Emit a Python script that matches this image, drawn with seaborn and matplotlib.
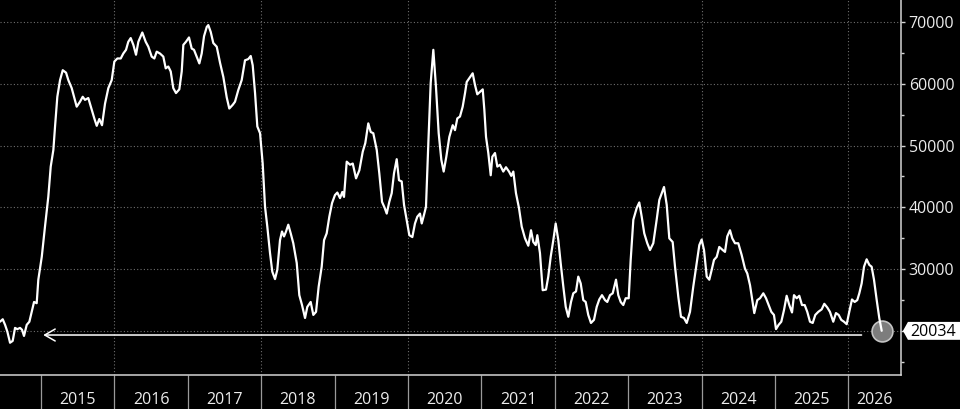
import matplotlib
matplotlib.use("Agg")
import numpy as np
import pandas as pd
import matplotlib.pyplot as plt
import seaborn as sns
from matplotlib.path import Path

# ---------------- data ----------------
years = [
    2014.441, 2014.478, 2014.510, 2014.541, 2014.578, 2014.614, 2014.646, 2014.677, 2014.714, 2014.741,
    2014.768, 2014.805, 2014.841, 2014.873, 2014.905, 2014.941, 2014.963, 2015.010, 2015.054, 2015.099,
    2015.132, 2015.168, 2015.191, 2015.222, 2015.259, 2015.296, 2015.341, 2015.372, 2015.418, 2015.450,
    2015.486, 2015.531, 2015.568, 2015.599, 2015.644, 2015.691, 2015.726, 2015.759, 2015.794, 2015.831,
    2015.872, 2015.917, 2015.963, 2015.999, 2016.040, 2016.086, 2016.121, 2016.158, 2016.189, 2016.222,
    2016.258, 2016.294, 2016.326, 2016.380, 2016.426, 2016.462, 2016.508, 2016.544, 2016.576, 2016.621,
    2016.666, 2016.699, 2016.734, 2016.767, 2016.802, 2016.839, 2016.884, 2016.917, 2016.939, 2016.975,
    2017.016, 2017.053, 2017.084, 2017.121, 2017.157, 2017.189, 2017.221, 2017.258, 2017.279, 2017.312,
    2017.347, 2017.394, 2017.439, 2017.484, 2017.530, 2017.565, 2017.612, 2017.643, 2017.688, 2017.734,
    2017.779, 2017.824, 2017.857, 2017.884, 2017.916, 2017.947, 2017.984, 2018.020, 2018.052, 2018.083,
    2018.120, 2018.151, 2018.188, 2018.219, 2018.256, 2018.283, 2018.311, 2018.338, 2018.369, 2018.402,
    2018.437, 2018.484, 2018.519, 2018.556, 2018.597, 2018.628, 2018.674, 2018.710, 2018.747, 2018.783,
    2018.824, 2018.856, 2018.892, 2018.928, 2018.965, 2019.005, 2019.037, 2019.074, 2019.105, 2019.128,
    2019.165, 2019.210, 2019.247, 2019.292, 2019.337, 2019.383, 2019.418, 2019.459, 2019.492, 2019.527,
    2019.574, 2019.609, 2019.646, 2019.683, 2019.710, 2019.745, 2019.778, 2019.809, 2019.846, 2019.877,
    2019.914, 2019.946, 2019.982, 2020.018, 2020.059, 2020.095, 2020.127, 2020.163, 2020.187, 2020.218,
    2020.245, 2020.277, 2020.309, 2020.345, 2020.381, 2020.418, 2020.454, 2020.486, 2020.522, 2020.563,
    2020.609, 2020.640, 2020.672, 2020.708, 2020.745, 2020.777, 2020.800, 2020.835, 2020.881, 2020.913,
    2020.944, 2020.981, 2021.018, 2021.040, 2021.063, 2021.094, 2021.127, 2021.149, 2021.185, 2021.217,
    2021.253, 2021.298, 2021.335, 2021.376, 2021.407, 2021.435, 2021.471, 2021.512, 2021.549, 2021.594,
    2021.639, 2021.676, 2021.707, 2021.740, 2021.762, 2021.798, 2021.835, 2021.880, 2021.911, 2021.944,
    2021.980, 2022.012, 2022.048, 2022.080, 2022.116, 2022.149, 2022.184, 2022.221, 2022.252, 2022.289,
    2022.320, 2022.353, 2022.388, 2022.421, 2022.456, 2022.493, 2022.534, 2022.571, 2022.606, 2022.643,
    2022.684, 2022.715, 2022.752, 2022.789, 2022.834, 2022.865, 2022.898, 2022.933, 2022.966, 2023.007,
    2023.034, 2023.070, 2023.116, 2023.151, 2023.184, 2023.219, 2023.260, 2023.297, 2023.342, 2023.388,
    2023.424, 2023.457, 2023.488, 2023.525, 2023.560, 2023.606, 2023.638, 2023.683, 2023.719, 2023.760,
    2023.797, 2023.842, 2023.887, 2023.933, 2023.969, 2024.001, 2024.033, 2024.070, 2024.105, 2024.138,
    2024.169, 2024.206, 2024.241, 2024.288, 2024.319, 2024.350, 2024.387, 2024.418, 2024.455, 2024.500,
    2024.546, 2024.591, 2024.623, 2024.660, 2024.691, 2024.718, 2024.759, 2024.796, 2024.841, 2024.878,
    2024.914, 2024.950, 2024.986, 2025.014, 2025.050, 2025.086, 2025.123, 2025.159, 2025.195, 2025.232,
    2025.259, 2025.296, 2025.331, 2025.368, 2025.405, 2025.440, 2025.477, 2025.514, 2025.549, 2025.590,
    2025.636, 2025.672, 2025.713, 2025.749, 2025.794, 2025.831, 2025.868, 2025.903, 2025.940, 2025.977,
    2026.012, 2026.049, 2026.086, 2026.121, 2026.149, 2026.181, 2026.213, 2026.249, 2026.285, 2026.317,
    2026.349, 2026.386, 2026.421, 2026.454,
]
values = [
    21500, 21900, 21000, 19900, 18100, 18400, 20500, 20300, 20500, 20200,
    19200, 21000, 21500, 23100, 24700, 24500, 28300, 32000, 36900, 41700,
    46600, 49300, 53100, 57900, 60600, 62200, 61800, 60600, 59300, 57900,
    56300, 57100, 57900, 57400, 57700, 55800, 54400, 53200, 54300, 53300,
    56800, 59300, 60600, 63600, 64100, 64100, 64900, 65500, 66800, 67400,
    66300, 64700, 66800, 68300, 66800, 66000, 64400, 64100, 65200, 64900,
    64400, 62500, 62800, 62000, 59300, 58500, 59100, 62000, 66300, 66800,
    67500, 65700, 65500, 64400, 63300, 64900, 67700, 69200, 69500, 68400,
    66600, 66000, 63400, 61100, 57800, 56000, 56600, 57100, 59000, 60600,
    63800, 64000, 64500, 63000, 58500, 53100, 52000, 47100, 40100, 36900,
    32600, 29600, 28400, 29900, 34700, 36100, 35300, 36100, 37200, 35800,
    34200, 31000, 25800, 24200, 22100, 23900, 24700, 22600, 23100, 27200,
    30400, 34700, 35800, 38500, 40700, 42000, 42400, 41500, 42500, 41700,
    47400, 46900, 47100, 44700, 46000, 49000, 50400, 53600, 52200, 52000,
    49300, 45500, 40900, 39900, 39000, 40900, 42300, 45500, 47800, 44400,
    44200, 40400, 38000, 35500, 35200, 37400, 38500, 39000, 37400, 38800,
    40100, 50400, 60100, 65500, 59500, 52000, 47700, 45800, 48200, 51400,
    53300, 52500, 54400, 54700, 56300, 58500, 60300, 60900, 61700, 59800,
    58300, 58700, 59100, 55800, 51400, 48800, 45200, 48200, 48800, 46600,
    46900, 45800, 46500, 45800, 45100, 45800, 42300, 39900, 36900, 35000,
    33800, 36300, 34400, 33900, 35500, 32600, 26600, 26700, 28800, 32000,
    34700, 37400, 34700, 31000, 27200, 23900, 22300, 24700, 26100, 26400,
    28800, 27700, 25000, 24700, 22600, 21300, 21800, 23900, 25100, 25800,
    25000, 24700, 25800, 26100, 28300, 25800, 24700, 24200, 25300, 25300,
    31500, 38000, 39900, 40800, 38500, 35800, 34200, 33100, 34200, 38000,
    41200, 42300, 43300, 40400, 35000, 34400, 30400, 25500, 22300, 22100,
    21300, 23100, 27200, 31000, 33900, 34800, 33100, 28800, 28300, 29900,
    31500, 32000, 33600, 33100, 32800, 35300, 36300, 35000, 34200, 34200,
    32300, 30100, 29300, 27400, 25000, 22900, 25000, 25300, 26100, 25300,
    24200, 23100, 22600, 20300, 21000, 21500, 23400, 25700, 24200, 23000,
    25800, 25300, 25700, 24200, 24200, 23100, 21500, 21300, 22600, 23100,
    23500, 24400, 23800, 23100, 21500, 22900, 22600, 21800, 21500, 21100,
    23100, 25100, 24700, 25000, 26100, 27700, 30400, 31600, 30700, 30400,
    28300, 25000, 22100, 20034,
]

year_ticks = list(range(2015, 2027))
year_labels = [str(y) for y in year_ticks]
grid_years = [2016, 2018, 2020, 2022, 2024, 2026]
y_major = [20000, 30000, 40000, 50000, 60000, 70000]
y_major_labels = ["", "30000", "40000", "50000", "60000", "70000"]
y_minor = [15000, 25000, 35000, 45000, 55000, 65000]
last_label = "20034"
arrow_level = 19350
arrow_start, arrow_end = 2015.03, 2026.18
x_range = (2014.441, 2026.717)
y_range = (12880, 73560)

# ---------------- style ----------------
sns.set_theme(style="ticks")
plt.rcParams.update({
    "figure.facecolor": "black",
    "axes.facecolor": "black",
    "savefig.facecolor": "black",
    "text.color": "#e8e8e8",
})
plt.rcParams["font.family"] = ["Open Sans", "DejaVu Sans"]

W, H = 960, 409
fig = plt.figure(figsize=(W / 100, H / 100), dpi=100)
ax = fig.add_axes([0, 34 / H, 901 / W, 375 / H])
ax.set_facecolor("black")

df = pd.DataFrame({"year": years, "value": values})
sns.lineplot(data=df, x="year", y="value", color="white", linewidth=1.6,
             estimator=None, sort=False, ax=ax, zorder=4)

ax.set_xlim(*x_range)
ax.set_ylim(*y_range)
ax.set_xlabel("")
ax.set_ylabel("")

# spines
for s in ["left", "top"]:
    ax.spines[s].set_visible(False)
for s in ["right", "bottom"]:
    ax.spines[s].set_color("#d4d4d4")
    ax.spines[s].set_linewidth(1.1)

# y axis on the right
ax.yaxis.tick_right()
ax.set_yticks(y_major)
ax.set_yticklabels(y_major_labels)
ax.set_yticks(y_minor, minor=True)
ax.tick_params(axis="y", which="major", length=3, width=1, color="#d4d4d4",
               pad=2.5, labelsize=11.5, labelcolor="#ececec", direction="out")
ax.tick_params(axis="y", which="minor", length=2.2, width=1, color="#d4d4d4",
               direction="out")
ax.grid(axis="y", which="major", linestyle=(0, (1, 2)), color="#6e6e6e",
        linewidth=0.8, zorder=1)

# x axis: year dividers + centred labels
ax.set_xticks(year_ticks)
ax.set_xticklabels([""] * len(year_ticks))
ax.tick_params(axis="x", which="major", length=25, width=0.9, color="#9a9a9a",
               direction="out")
edges = year_ticks + [x_range[1]]
mids = [(edges[i] + edges[i + 1]) / 2 for i in range(len(year_ticks))]
ax.set_xticks(mids, minor=True)
ax.set_xticklabels(year_labels, minor=True)
ax.tick_params(axis="x", which="minor", length=0, pad=12.0, labelsize=11.5,
               labelcolor="#ececec")
for g in grid_years:
    ax.axvline(g, linestyle=(0, (1, 2)), color="#6e6e6e", linewidth=0.8, zorder=1)

# horizontal arrow annotation
ax.annotate("", xy=(arrow_start, arrow_level), xytext=(arrow_end, arrow_level),
            arrowprops=dict(arrowstyle="->,head_length=0.75,head_width=0.43",
                            color="white", lw=1.1, shrinkA=0, shrinkB=0,
                            mutation_scale=10),
            zorder=3)

# last value marker
ax.scatter([years[-1]], [values[-1]], s=225, color="#7d7d7d", edgecolor="#c4c4c4",
           linewidth=1.2, zorder=3.5)


def tag_box(x0, y0, width, height, mutation_size):
    ymid = y0 + 0.6 * height
    half = 0.56 * height
    left = x0 - 2.5
    tip = left - 5
    right = x0 + width + 12
    verts = [(tip, ymid), (left, ymid + half), (right, ymid + half),
             (right, ymid - half), (left, ymid - half), (tip, ymid)]
    codes = [Path.MOVETO] + [Path.LINETO] * 4 + [Path.CLOSEPOLY]
    return Path(verts, codes)


ax.annotate(last_label, xy=(1, values[-1]), xycoords=("axes fraction", "data"),
            xytext=(6.8, -1.2), textcoords="offset points", ha="left", va="center",
            fontsize=11.5, color="black",
            bbox=dict(boxstyle=tag_box, fc="white", ec="none"),
            annotation_clip=False, zorder=10)

fig.savefig("out.png", dpi=100)
